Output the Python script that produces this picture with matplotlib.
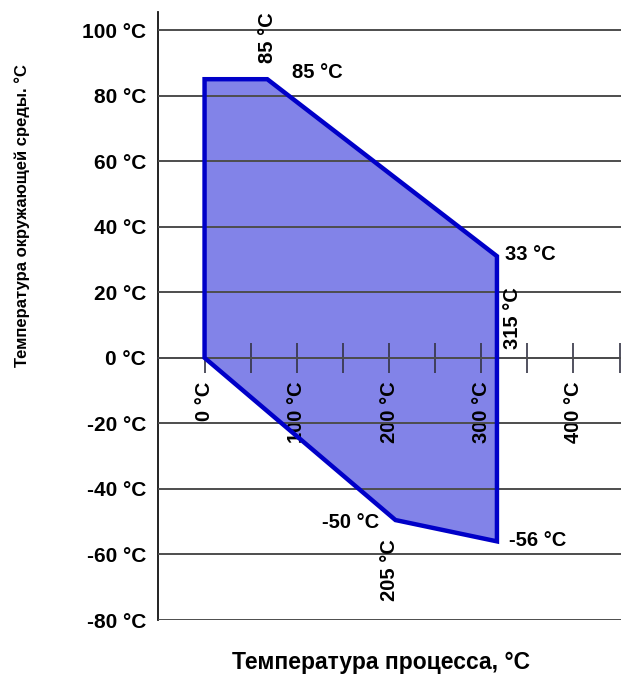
import matplotlib
matplotlib.use("Agg")
import matplotlib.pyplot as plt
from matplotlib import font_manager
from matplotlib.ticker import FixedLocator

plt.rcParams['font.family'] = ['Liberation Sans', 'DejaVu Sans']

# outline of the allowed area: process temperature vs ambient temperature
process_t = [0, 0, 68, 317, 317, 207]
ambient_t = [0, 85, 85, 31, -56, -49.5]

y_ticks = [-80, -60, -40, -20, 0, 20, 40, 60, 80, 100]
x_ticks = [0, 100, 200, 300, 400]
x_minor = [50, 150, 250, 350, 450]

# corner labels: (text, corner index, offset in points, ha, va, rotation)
corner_labels = [
    ("85 °C", 2, (0, 11.5), 'center', 'bottom', 90),
    ("85 °C", 2, (18, 4.5), 'left', 'center', 0),
    ("33 °C", 3, (5.5, 1.5), 'left', 'center', 0),
    ("-56 °C", 4, (8.5, 0.5), 'left', 'center', 0),
    ("-50 °C", 5, (-11.5, -1.5), 'right', 'center', 0),
    ("205 °C", 5, (-4.5, -13.5), 'center', 'top', 90),
]

fs = 14.5

# the y title in the original is a tall condensed face
try:
    font_manager.findfont(font_manager.FontProperties(family='Liberation Sans Narrow'),
                          fallback_to_default=False)
    ylab_family, ylab_size = ['Liberation Sans Narrow', 'DejaVu Sans'], 15
except Exception:
    ylab_family, ylab_size = ['Liberation Sans', 'DejaVu Sans'], 12

fig = plt.figure(figsize=(6.21, 6.78), dpi=100)
ax = fig.add_axes([0.2544, 0.0855, 0.7456, 0.8968])

fill_col = '#8283e8'
edge_col = '#0000c8'
grid_col = '#4d4d4d'

ax.fill(process_t, ambient_t, facecolor=fill_col, edgecolor='none', zorder=1)
ax.fill(process_t, ambient_t, facecolor='none', edgecolor=edge_col, lw=3.2,
        joinstyle='miter', zorder=3)

ax.set_xlim(-50.5, 451.5)
ax.set_ylim(-80, 105.5)

# y axis: horizontal grid lines, labels only
ax.set_yticks(y_ticks)
ax.set_yticklabels([f"{v} °C" for v in y_ticks], fontsize=fs + 0.5, fontweight='bold')
ax.tick_params(axis='y', length=0, pad=8.5)
ax.yaxis.grid(True, color=grid_col, lw=1.4)
ax.set_axisbelow(False)

# x axis runs along ambient 0 °C
ax.spines['bottom'].set_position(('data', 0))
ax.spines['bottom'].set_color('#333344')
ax.spines['bottom'].set_linewidth(1.3)
ax.spines['top'].set_visible(False)
ax.spines['right'].set_visible(False)
ax.spines['left'].set_color('#111111')
ax.spines['left'].set_linewidth(1.3)

ax.xaxis.set_major_locator(FixedLocator(x_ticks))
ax.xaxis.set_minor_locator(FixedLocator(x_minor))
ax.set_xticklabels([f"{v} °C" for v in x_ticks], fontsize=fs, fontweight='bold',
                   rotation=90)
ax.tick_params(axis='x', which='both', direction='inout', length=22, width=1.2,
               color='#333344', pad=6)

# rotated 315 label sitting above the axis
ax.annotate("315 °C", xy=(process_t[3], 0), xytext=(11, 6.5), textcoords='offset points',
            ha='center', va='bottom', rotation=90, fontsize=fs, fontweight='bold')

for txt, i, off, ha, va, rot in corner_labels:
    ax.annotate(txt, xy=(process_t[i], ambient_t[i]), xytext=off,
                textcoords='offset points', ha=ha, va=va, rotation=rot,
                fontsize=fs, fontweight='bold')

fig.text(22 / 621, 1 - 216 / 678, "Температура окружающей среды. °C", rotation=90,
         ha='center', va='center', fontsize=ylab_size, fontweight='bold',
         family=ylab_family)
fig.text(381 / 621, 1 - 662 / 678, "Температура процесса, °C", ha='center',
         va='center', fontsize=16.5, fontweight='bold')

fig.savefig("out.png", dpi=100)
